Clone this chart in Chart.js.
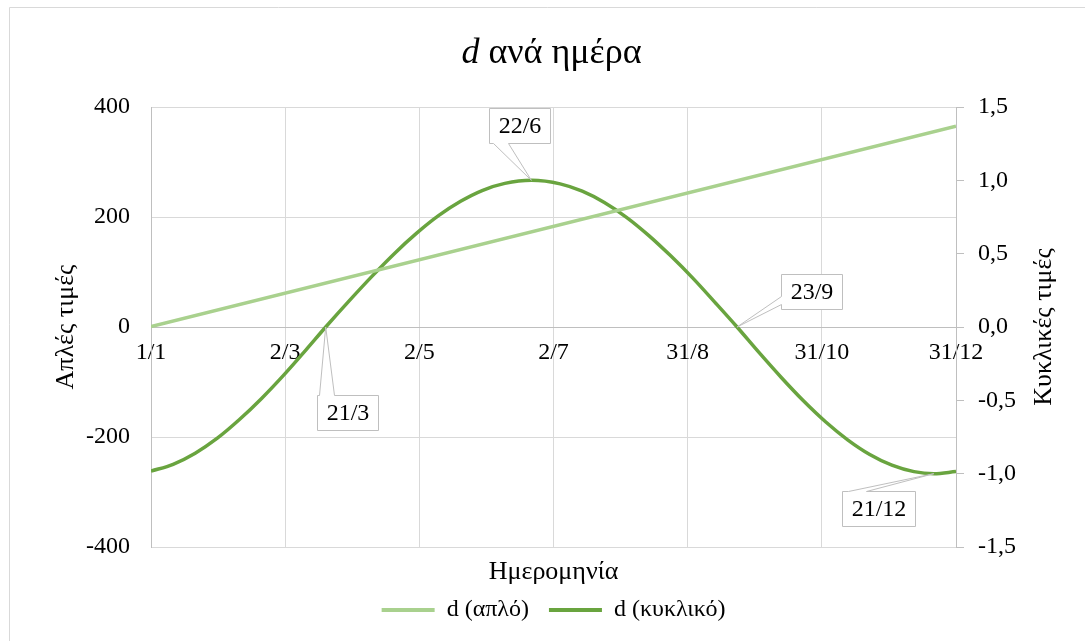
<!DOCTYPE html>
<html>
<head>
<meta charset="utf-8">
<script src="https://cdn.jsdelivr.net/npm/chart.js@4/dist/chart.umd.min.js"></script>
<style>
html, body { margin: 0; padding: 0; background: #fff; }
#wrap { width: 1085px; height: 641px; position: relative; }
</style>
</head>
<body>
<div id="wrap"><canvas id="c" width="1085" height="641"></canvas></div>
<script>
// ---- data ----
const xTickLabels = ['1/1', '2/3', '2/5', '2/7', '31/8', '31/10', '31/12'];
const simpleDays = [0, 364];
const simpleValues = [1, 365];
const cyclicDays = [0, 10, 20, 30, 40, 50, 60, 70, 79, 90, 100, 110, 120, 130, 140, 150, 160, 172,
  185, 195, 205, 215, 225, 235, 245, 255, 265, 275, 285, 295, 305, 315, 325, 335, 345, 354, 364];
const cyclicValues = [-0.983, -0.936, -0.860, -0.758, -0.631, -0.487, -0.328, -0.157, 0.000, 0.185,
  0.347, 0.500, 0.638, 0.759, 0.857, 0.932, 0.979, 1.000, 0.976, 0.926, 0.849, 0.748, 0.625, 0.485,
  0.333, 0.168, 0.000, -0.175, -0.344, -0.503, -0.646, -0.769, -0.869, -0.942, -0.986, -1.000, -0.986];
const calloutLabels = ['21/3', '22/6', '23/9', '21/12'];
const calloutDays = [79, 172, 265, 354];

const FONT = "'Liberation Serif', 'Times New Roman', serif";
const simpleColor = '#A9D18E';
const cyclicColor = '#69A43F';
const rightTitle = 'Κυκλικές τιμές';

// callout layout (box centre offset from anchor in px, pointer side)
const calloutLayout = [
  { dx: 22, dy: 85, side: 'top', b1: 2, b2: 17 },
  { dx: -12, dy: -55, side: 'bottom', b1: 4, b2: 19 },
  { dx: 74, dy: -36, side: 'left', b1: 22, b2: 30 },
  { dx: -55, dy: 35, side: 'top', b1: 6, b2: 24 }
];

const chromePlugin = {
  id: 'chrome',
  beforeDraw(chart) {
    const ctx = chart.ctx;
    ctx.save();
    ctx.fillStyle = '#fff';
    ctx.fillRect(0, 0, chart.width, chart.height);
    ctx.strokeStyle = '#d9d9d9';
    ctx.lineWidth = 1;
    ctx.beginPath();
    ctx.moveTo(9.5, chart.height);
    ctx.lineTo(9.5, 7.5);
    ctx.lineTo(chart.width, 7.5);
    ctx.stroke();
    ctx.restore();
  },
  afterDraw(chart) {
    const ctx = chart.ctx;
    const ca = chart.chartArea;
    // title with italic d
    ctx.save();
    ctx.fillStyle = '#000';
    ctx.textBaseline = 'alphabetic';
    const f1 = 'italic 36px ' + FONT, f2 = '36px ' + FONT;
    ctx.font = f1; const w1 = ctx.measureText('d').width;
    ctx.font = f2; const w2 = ctx.measureText(' ανά ημέρα').width;
    const cx = (ca.left + ca.right) / 2 - 2;
    let x0 = cx - (w1 + w2) / 2;
    ctx.font = f1; ctx.fillText('d', x0, 63);
    ctx.font = f2; ctx.fillText(' ανά ημέρα', x0 + w1, 63);
    ctx.restore();

    // right axis title (reads bottom to top)
    ctx.save();
    ctx.fillStyle = '#000';
    ctx.font = '26px ' + FONT;
    ctx.textAlign = 'center';
    ctx.textBaseline = 'middle';
    ctx.translate(1044, (ca.top + ca.bottom) / 2);
    ctx.rotate(-Math.PI / 2);
    ctx.fillText(rightTitle, 0, 0);
    ctx.restore();

    // callouts
    const xs = chart.scales.x, ys = chart.scales.y1;
    ctx.save();
    ctx.font = '24px ' + FONT;
    for (let i = 0; i < calloutLabels.length; i++) {
      const idx = cyclicDays.indexOf(calloutDays[i]);
      const ax = xs.getPixelForValue(calloutDays[i]);
      const ay = ys.getPixelForValue(cyclicValues[idx]);
      const L = calloutLayout[i];
      const tw = ctx.measureText(calloutLabels[i]).width;
      const bw = Math.round(tw + 18), bh = 35;
      const left = Math.round(ax + L.dx - bw / 2) + 0.5;
      const top = Math.round(ay + L.dy - bh / 2) + 0.5;
      const right = left + bw, bottom = top + bh;
      ctx.beginPath();
      ctx.moveTo(left, top);
      if (L.side === 'top') {
        ctx.lineTo(left + L.b1, top); ctx.lineTo(ax, ay); ctx.lineTo(left + L.b2, top);
      }
      ctx.lineTo(right, top);
      ctx.lineTo(right, bottom);
      if (L.side === 'bottom') {
        ctx.lineTo(left + L.b2, bottom); ctx.lineTo(ax, ay); ctx.lineTo(left + L.b1, bottom);
      }
      ctx.lineTo(left, bottom);
      if (L.side === 'left') {
        ctx.lineTo(left, top + L.b2); ctx.lineTo(ax, ay); ctx.lineTo(left, top + L.b1);
      }
      ctx.closePath();
      ctx.fillStyle = '#fff';
      ctx.fill();
      ctx.strokeStyle = '#bfbfbf';
      ctx.lineWidth = 1;
      ctx.stroke();
      ctx.fillStyle = '#000';
      ctx.textAlign = 'center';
      ctx.textBaseline = 'middle';
      ctx.fillText(calloutLabels[i], (left + right) / 2, (top + bottom) / 2 + 1);
    }
    ctx.restore();
  }
};

const chart = new Chart(document.getElementById('c'), {
  type: 'line',
  data: {
    datasets: [
      {
        label: 'd (απλό)',
        data: simpleDays.map((d, i) => ({ x: d, y: simpleValues[i] })),
        borderColor: simpleColor,
        backgroundColor: simpleColor,
        borderWidth: 3.5,
        pointRadius: 0,
        yAxisID: 'y',
        xAxisID: 'x'
      },
      {
        label: 'd (κυκλικό)',
        data: cyclicDays.map((d, i) => ({ x: d, y: cyclicValues[i] })),
        borderColor: cyclicColor,
        backgroundColor: cyclicColor,
        borderWidth: 3.5,
        pointRadius: 0,
        cubicInterpolationMode: 'monotone',
        yAxisID: 'y1',
        xAxisID: 'x'
      }
    ]
  },
  options: {
    responsive: false,
    animation: false,
    events: [],
    layout: { padding: { top: 107, left: 31, right: 9, bottom: 9 } },
    scales: {
      x: {
        type: 'linear',
        position: { y: 0 },
        min: 0, max: 364,
        ticks: {
          count: 7,
          autoSkip: false, maxRotation: 0,
          color: '#000',
          font: { family: FONT, size: 24 },
          padding: 11,
          callback: (v, i) => xTickLabels[i]
        },
        grid: { color: '#d9d9d9', drawTicks: false },
        border: { color: '#bfbfbf' }
      },
      x2: {
        type: 'linear',
        position: 'bottom',
        min: 0, max: 1,
        ticks: { display: false },
        grid: { display: false, drawTicks: false },
        border: { display: false },
        title: { display: true, text: 'Ημερομηνία', color: '#000', font: { family: FONT, size: 26 }, padding: { top: 0, bottom: -10 } },
        afterFit: s => { s.height = 31; }
      },
      y: {
        position: 'left',
        min: -400, max: 400,
        ticks: { stepSize: 200, color: '#000', font: { family: FONT, size: 24 }, padding: 21 },
        grid: { color: '#d9d9d9', drawTicks: false },
        border: { color: '#bfbfbf' },
        title: { display: true, text: 'Απλές τιμές', color: '#000', font: { family: FONT, size: 26 }, padding: { top: 20, bottom: 0 } },
        afterFit: s => { s.width = 120; }
      },
      y1: {
        position: 'right',
        min: -1.5, max: 1.5,
        ticks: {
          stepSize: 0.5, color: '#000', font: { family: FONT, size: 24 }, padding: 14,
          callback: v => v.toFixed(1).replace('.', ',')
        },
        grid: { drawOnChartArea: false, drawTicks: true, tickLength: 8, tickColor: '#bfbfbf' },
        border: { color: '#bfbfbf' },
        title: { display: false },
        afterFit: s => { s.width = 120; }
      }
    },
    plugins: {
      title: { display: false },
      tooltip: { enabled: false },
      legend: {
        display: true,
        position: 'bottom',
        labels: {
          color: '#000',
          font: { family: FONT, size: 24 },
          boxWidth: 53,
          boxHeight: 4,
          padding: 20,
          generateLabels: (ch) => Chart.defaults.plugins.legend.labels.generateLabels(ch).map(it => {
            it.lineWidth = 0; it.fillStyle = it.strokeStyle; return it;
          })
        }
      }
    }
  },
  plugins: [chromePlugin]
});
</script>
</body>
</html>
